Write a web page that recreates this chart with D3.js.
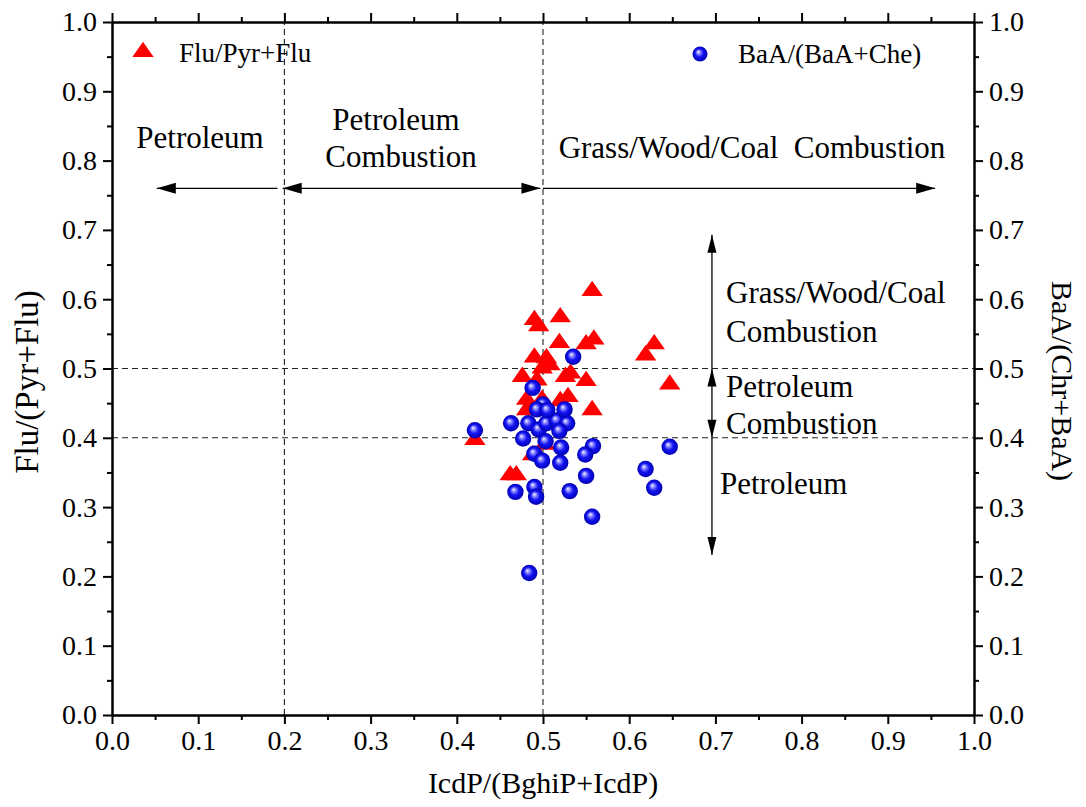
<!DOCTYPE html>
<html>
<head>
<meta charset="utf-8">
<script src="https://cdn.jsdelivr.net/npm/d3@7"></script>
<style>
  html, body { margin: 0; padding: 0; background: #fff; }
  svg { display: block; }
</style>
</head>
<body>
<svg id="chart" width="1086" height="807"></svg>
<script>
// ---------- Data ----------
const seriesNames = ["Flu/Pyr+Flu", "BaA/(BaA+Che)"];
// Flu/(Pyr+Flu) vs IcdP/(BghiP+IcdP)
const fluX = [0.421, 0.462, 0.469, 0.557, 0.490, 0.495, 0.520, 0.519, 0.550, 0.559,
              0.629, 0.619, 0.647, 0.490, 0.504, 0.508, 0.499, 0.476, 0.493, 0.526,
              0.532, 0.550, 0.481, 0.520, 0.529, 0.557, 0.481, 0.488, 0.502, 0.499];
const fluY = [0.397, 0.346, 0.346, 0.612, 0.570, 0.561, 0.574, 0.537, 0.535, 0.542,
              0.535, 0.519, 0.477, 0.516, 0.515, 0.505, 0.500, 0.488, 0.483, 0.488,
              0.493, 0.482, 0.455, 0.453, 0.459, 0.440, 0.440, 0.375, 0.390, 0.455];
// BaA/(Chr+BaA) vs IcdP/(BghiP+IcdP)
const baaX = [0.421, 0.463, 0.483, 0.495, 0.504, 0.516, 0.528, 0.519, 0.525, 0.500,
              0.493, 0.505, 0.477, 0.503, 0.521, 0.558, 0.549, 0.490, 0.499, 0.520,
              0.550, 0.619, 0.647, 0.629, 0.468, 0.490, 0.492, 0.531, 0.557, 0.484,
              0.535, 0.488];
const baaY = [0.411, 0.421, 0.421, 0.412, 0.421, 0.425, 0.421, 0.410, 0.441, 0.448,
              0.441, 0.440, 0.399, 0.395, 0.386, 0.388, 0.376, 0.377, 0.367, 0.364,
              0.345, 0.355, 0.387, 0.328, 0.322, 0.329, 0.315, 0.323, 0.286, 0.205,
              0.517, 0.472];
const majorTicks = [0.0, 0.1, 0.2, 0.3, 0.4, 0.5, 0.6, 0.7, 0.8, 0.9, 1.0];
const minorTicks = [0.05, 0.15, 0.25, 0.35, 0.45, 0.55, 0.65, 0.75, 0.85, 0.95];
const vLines = [0.2, 0.5];
const hLines = [0.4, 0.5];
const xTitle = "IcdP/(BghiP+IcdP)";
const yTitleLeft = "Flu/(Pyr+Flu)";
const yTitleRight = "BaA/(Chr+BaA)";

// ---------- Layout ----------
const FONT = "Liberation Serif";
const svg = d3.select("#chart");
const L = 112, R = 974, T = 22, B = 715;
const x = d3.scaleLinear().domain([0, 1]).range([L, R]);
const y = d3.scaleLinear().domain([0, 1]).range([B, T]);
const fmt = d3.format(".1f");

// gradient for the balls
const defs = svg.append("defs");
const grad = defs.append("radialGradient").attr("id", "ball")
  .attr("cx", "50%").attr("cy", "50%").attr("r", "50%")
  .attr("fx", "38%").attr("fy", "35%");
grad.append("stop").attr("offset", "0%").attr("stop-color", "#ffffff");
grad.append("stop").attr("offset", "20%").attr("stop-color", "#9a9aff");
grad.append("stop").attr("offset", "55%").attr("stop-color", "#1414f5");
grad.append("stop").attr("offset", "100%").attr("stop-color", "#0000b0");

// ---------- Reference dashed lines ----------
const g = svg.append("g");
g.selectAll(".vl").data(vLines).join("line")
  .attr("x1", d => x(d)).attr("x2", d => x(d)).attr("y1", y(0)).attr("y2", y(1))
  .attr("stroke", "#222").attr("stroke-width", 1.1).attr("stroke-dasharray", "6,4");
g.selectAll(".hl").data(hLines).join("line")
  .attr("x1", x(0)).attr("x2", x(1)).attr("y1", d => y(d)).attr("y2", d => y(d))
  .attr("stroke", "#222").attr("stroke-width", 1.1).attr("stroke-dasharray", "6,4");

// ---------- Arrows ----------
const arrows = [
  {x1: 0.192, y1: 0.76, x2: 0.052, y2: 0.76, head1: false, head2: true},
  {x1: 0.198, y1: 0.76, x2: 0.497, y2: 0.76, head1: true, head2: true},
  {x1: 0.500, y1: 0.76, x2: 0.955, y2: 0.76, head1: false, head2: true},
  {x1: 0.696, y1: 0.500, x2: 0.696, y2: 0.693, head1: false, head2: true},
  {x1: 0.696, y1: 0.500, x2: 0.696, y2: 0.400, head1: true, head2: true},
  {x1: 0.696, y1: 0.400, x2: 0.696, y2: 0.231, head1: false, head2: true}
];
function headPath(tx, ty, fx, fy, len, hw) {
  const dx = tx - fx, dy = ty - fy, d = Math.hypot(dx, dy);
  const ux = dx / d, uy = dy / d;
  const bx = tx - ux * len, by = ty - uy * len;
  return `M${tx},${ty}L${bx - uy * hw},${by + ux * hw}L${bx + uy * hw},${by - ux * hw}Z`;
}
const ag = svg.append("g");
arrows.forEach(a => {
  const X1 = x(a.x1), Y1 = y(a.y1), X2 = x(a.x2), Y2 = y(a.y2);
  const horiz = Math.abs(Y1 - Y2) < 1;
  const len = horiz ? 19 : 18, hw = horiz ? 5.5 : 4.5;
  ag.append("line").attr("x1", X1).attr("y1", Y1).attr("x2", X2).attr("y2", Y2)
    .attr("stroke", "#000").attr("stroke-width", 1.3);
  if (a.head2) ag.append("path").attr("d", headPath(X2, Y2, X1, Y1, len, hw)).attr("fill", "#000");
  if (a.head1) ag.append("path").attr("d", headPath(X1, Y1, X2, Y2, len, hw)).attr("fill", "#000");
});

// ---------- Annotations ----------
const notes = [
  {t: "Petroleum", x: 200, y: 148, a: "middle"},
  {t: "Petroleum", x: 396, y: 130, a: "middle"},
  {t: "Combustion", x: 401, y: 167, a: "middle"},
  {t: "Grass/Wood/Coal\u00a0\u00a0Combustion", x: 752, y: 158, a: "middle"},
  {t: "Grass/Wood/Coal", x: 726, y: 303, a: "start"},
  {t: "Combustion", x: 726, y: 342, a: "start"},
  {t: "Petroleum", x: 726, y: 397, a: "start"},
  {t: "Combustion", x: 726, y: 434, a: "start"},
  {t: "Petroleum", x: 720, y: 494, a: "start"}
];
svg.append("g").selectAll("text").data(notes).join("text")
  .attr("x", d => d.x).attr("y", d => d.y).attr("text-anchor", d => d.a)
  .attr("font-family", FONT).attr("font-size", 31).attr("fill", "#000").text(d => d.t);

// ---------- Points ----------
const tri = d3.symbol().type(d3.symbolTriangle).size(150);
svg.append("g").selectAll("path").data(d3.range(fluX.length)).join("path")
  .attr("d", tri)
  .attr("transform", i => `translate(${x(fluX[i])},${y(fluY[i])}) scale(1.15,0.95)`)
  .attr("fill", "#ff0000");

svg.append("g").selectAll("circle").data(d3.range(baaX.length)).join("circle")
  .attr("cx", i => x(baaX[i])).attr("cy", i => y(baaY[i])).attr("r", 8.2)
  .attr("fill", "url(#ball)");

// ---------- Axes ----------
function styleAxis(sel) {
  sel.attr("font-family", FONT).attr("font-size", 28);
  sel.selectAll(".domain").attr("stroke", "#000").attr("stroke-width", 2);
  sel.selectAll(".tick line").attr("stroke", "#000").attr("stroke-width", 2);
  sel.selectAll(".tick text").attr("font-family", FONT).attr("font-size", 28).attr("fill", "#000");
}
const ax = [
  {f: d3.axisBottom(x), tr: `translate(0,${B})`, lab: true},
  {f: d3.axisTop(x), tr: `translate(0,${T})`, lab: false},
  {f: d3.axisLeft(y), tr: `translate(${L},0)`, lab: true},
  {f: d3.axisRight(y), tr: `translate(${R},0)`, lab: true}
];
ax.forEach(a => {
  const major = svg.append("g").attr("transform", a.tr)
    .call(a.f.tickValues(majorTicks).tickSize(9).tickSizeOuter(0).tickPadding(6)
      .tickFormat(a.lab ? fmt : () => ""));
  styleAxis(major);
  const minor = svg.append("g").attr("transform", a.tr)
    .call(a.f.tickValues(minorTicks).tickSize(5).tickSizeOuter(0).tickFormat(() => ""));
  styleAxis(minor);
});

// ---------- Titles ----------
svg.append("text").attr("x", 543).attr("y", 793).attr("text-anchor", "middle")
  .attr("font-family", FONT).attr("font-size", 30).text(xTitle);
svg.append("text").attr("transform", "translate(38,382) rotate(-90)")
  .attr("text-anchor", "middle").attr("font-family", FONT).attr("font-size", 33).text(yTitleLeft);
svg.append("text").attr("transform", "translate(1052,381) rotate(90)")
  .attr("text-anchor", "middle").attr("font-family", FONT).attr("font-size", 30).text(yTitleRight);

// ---------- Legend ----------
const lg = svg.append("g");
lg.append("path").attr("d", tri).attr("transform", "translate(143,52) scale(1.15,0.95)")
  .attr("fill", "#ff0000");
lg.append("text").attr("x", 179).attr("y", 62).attr("font-family", FONT).attr("font-size", 27)
  .text(seriesNames[0]);
lg.append("circle").attr("cx", 700).attr("cy", 54).attr("r", 7.5).attr("fill", "url(#ball)");
lg.append("text").attr("x", 738).attr("y", 63).attr("font-family", FONT).attr("font-size", 27)
  .text(seriesNames[1]);
</script>
</body>
</html>
